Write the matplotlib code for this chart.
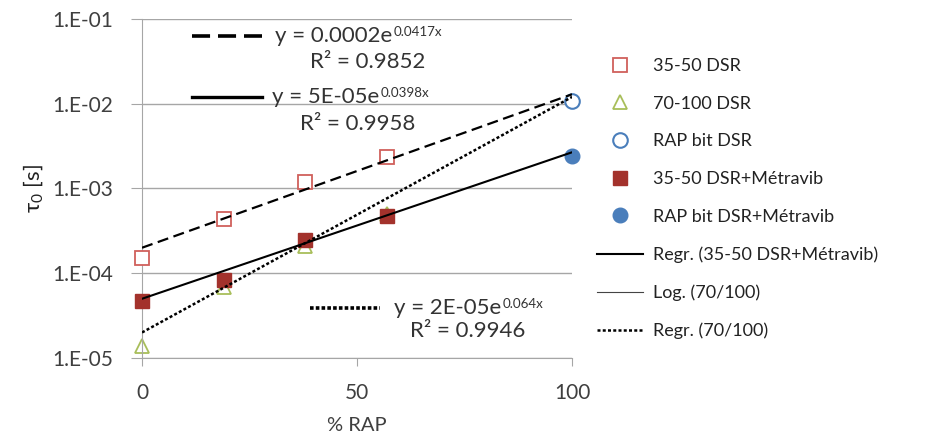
import matplotlib
matplotlib.use("Agg")
import matplotlib.pyplot as plt
import numpy as np
from matplotlib.lines import Line2D

plt.rcParams["font.family"] = ["Lato", "DejaVu Sans"]

# ── Data ──────────────────────────────────────────────────────────────────────
x_dsr = [0, 19, 38, 57]
tau_3550 = [1.5e-4, 4.4e-4, 1.2e-3, 2.35e-3]
tau_70100 = [1.4e-5, 6.9e-5, 2.1e-4, 5.0e-4]
x_rap = [100]
tau_rap = [1.07e-2]
tau_3550_met = [4.7e-5, 8.3e-5, 2.45e-4, 4.8e-4]
tau_rap_met = [2.4e-3]

# exponential trendlines y = a * exp(b x) as displayed on the chart
fit_3550 = (0.0002, 0.0417, 0.9852)
fit_met = (5e-05, 0.0398, 0.9958)
fit_70100 = (2e-05, 0.064, 0.9946)
fit_x = [0, 100]

y_ticks = [1e-5, 1e-4, 1e-3, 1e-2, 1e-1]
y_tick_labels = ["1.E-05", "1.E-04", "1.E-03", "1.E-02", "1.E-01"]
x_ticks = [0, 50, 100]

# ── Figure ────────────────────────────────────────────────────────────────────
fig = plt.figure(figsize=(9.32, 4.4), dpi=100)
ax = fig.add_axes([0.1524, 0.1864, 0.4614, 0.7704])
ax.set_yscale("log")
ax.set_xlim(0, 100)
ax.set_ylim(1e-5, 1e-1)

grid_c = "#A6A6A6"
txt_c = "#3F3F3F"
for yt in y_ticks:
    ax.axhline(yt, color=grid_c, lw=1, zorder=0)
for s in ["top", "right"]:
    ax.spines[s].set_visible(False)
ax.spines["left"].set_color(grid_c)
ax.spines["bottom"].set_color(grid_c)

ax.set_yticks(y_ticks)
ax.set_yticklabels(y_tick_labels)
ax.minorticks_off()
ax.set_xticks(x_ticks)
ax.tick_params(axis="y", length=8, color=grid_c, labelsize=15,
               labelcolor=txt_c, pad=13)
ax.tick_params(axis="x", length=6, color=grid_c, labelsize=15,
               labelcolor=txt_c, pad=12)

ax.set_xlabel("% RAP", fontsize=14.5, color=txt_c, labelpad=10)
ax.set_ylabel(r"τ$_\mathregular{0}$ [s]", fontsize=16, color="#222222",
              labelpad=4)

# ── Points ────────────────────────────────────────────────────────────────────
ms = 9.5
c_sq_open = "#D0605C"
c_tri = "#A8BE5A"
c_circ = "#4A7EBB"
c_sq_fill = "#A3322C"

h1, = ax.plot(x_dsr, tau_3550, "s", ms=ms, mfc="white", mec=c_sq_open,
              mew=1.3, ls="none", zorder=3, clip_on=False, label="35-50 DSR")
h2, = ax.plot(x_dsr, tau_70100, "^", ms=ms + 1, mfc="white", mec=c_tri,
              mew=1.3, ls="none", zorder=2, clip_on=False, label="70-100 DSR")
h3, = ax.plot(x_rap, tau_rap, "o", ms=ms + 1, mfc="white", mec=c_circ,
              mew=1.5, ls="none", zorder=3, clip_on=False, label="RAP bit DSR")
h4, = ax.plot(x_dsr, tau_3550_met, "s", ms=ms, mfc=c_sq_fill, mec=c_sq_fill,
              ls="none", zorder=3, clip_on=False, label="35-50 DSR+Métravib")
h5, = ax.plot(x_rap, tau_rap_met, "o", ms=ms + 1, mfc=c_circ, mec=c_circ,
              ls="none", zorder=3, clip_on=False, label="RAP bit DSR+Métravib")

# ── Trendlines ────────────────────────────────────────────────────────────────
fx = np.array(fit_x, dtype=float)
dash_ls = (0, (5, 2.5))
dot_ls = (0, (1.2, 0.9))
ax.plot(fx, fit_3550[0] * np.exp(fit_3550[1] * fx), color="black", lw=1.6,
        ls=dash_ls, zorder=4)
h6, = ax.plot(fx, fit_met[0] * np.exp(fit_met[1] * fx), color="black", lw=1.5,
              zorder=4, label="Regr. (35-50 DSR+Métravib)")
h8, = ax.plot(fx, fit_70100[0] * np.exp(fit_70100[1] * fx), color="black",
              lw=1.8, ls=dot_ls, zorder=4, label="Regr. (70/100)")
h7 = Line2D([], [], color="#444444", lw=0.8, label="Log. (70/100)")

# ── Equation labels ───────────────────────────────────────────────────────────
eq_fs = 16
eq_c = "#333333"


def eq_label(fit, a_txt, sx0, sx1, sy, tx, rx, ry, ls, lw):
    a, b, r2 = fit
    ax.plot([sx0, sx1], [sy, sy], color="black", ls=ls, lw=lw, clip_on=False)
    t = ax.text(tx, sy, f"y = {a_txt}e", fontsize=eq_fs, color=eq_c,
                va="center", ha="left")
    fig.canvas.draw()
    bb = t.get_window_extent()
    # small superscript exponent, Excel style
    ax.annotate(f"{b}x", xy=(bb.x1, bb.y1), xycoords="figure pixels",
                xytext=(1, 0), textcoords="offset points",
                fontsize=eq_fs * 0.6, color=eq_c, va="top", ha="left")
    ax.text(rx, ry, f"R² = {r2}", fontsize=eq_fs, color=eq_c, va="center",
            ha="left")


eq_label(fit_3550, "0.0002", 11.6, 27.9, 0.063, 30.9, 39.1, 0.031,
         (0, (5, 2.2)), 2.6)
eq_label(fit_met, "5E-05", 11.6, 27.9, 0.012, 30.2, 36.7, 0.0058, "-", 2.4)
eq_label(fit_70100, "2E-05", 39.1, 55.3, 3.9e-5, 58.6, 62.3, 2.1e-5,
         (0, (1, 0.6)), 2.6)

# ── Legend ────────────────────────────────────────────────────────────────────
fig.legend(handles=[h1, h2, h3, h4, h5, h6, h7, h8], loc="upper left",
           bbox_to_anchor=(0.641, 0.868), frameon=False, fontsize=13,
           handlelength=2.5, handletextpad=0.6, labelspacing=1.2,
           borderpad=0, borderaxespad=0, labelcolor="#222222")

plt.savefig("out.png", dpi=100)
plt.close()
